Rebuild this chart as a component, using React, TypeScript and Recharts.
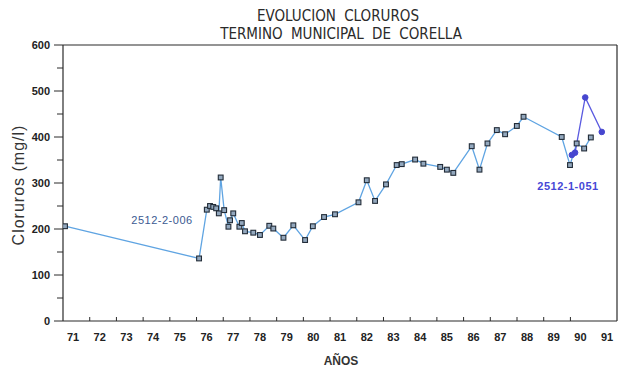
import { LineChart, Line, XAxis, YAxis, ReferenceLine } from 'recharts';

// Pozo 2512-2-006 (serie larga, 1970-1990)
const yearsPozo2006 = [
  70.7, 75.72, 76.01, 76.13, 76.25, 76.36, 76.46, 76.53, 76.66, 76.82, 76.88,
  77.0, 77.23, 77.32, 77.44, 77.75, 78.0, 78.35, 78.5, 78.88, 79.25, 79.69,
  79.98, 80.4, 80.81, 81.69, 82.0, 82.31, 82.72, 83.12, 83.31, 83.81, 84.12,
  84.75, 85.0, 85.24, 85.93, 86.22, 86.52, 86.87, 87.18, 87.62, 87.87, 89.3,
  89.61, 89.86, 90.14, 90.39,
];
const clorurosPozo2006 = [
  206, 136, 242, 250, 248, 245, 234, 312, 241, 205, 219,
  234, 205, 213, 195, 192, 187, 207, 201, 181, 208, 176,
  206, 226, 232, 258, 306, 261, 297, 339, 341, 351, 342,
  335, 329, 322, 380, 329, 386, 415, 406, 424, 444, 400,
  339, 386, 375, 399,
];

// Pozo 2512-1-051
const yearsPozo1051 = [89.68, 89.8, 90.18, 90.8];
const clorurosPozo1051 = [361, 366, 486, 411];

const yearTicks = [
  71, 72, 73, 74, 75, 76, 77, 78, 79, 80, 81, 82, 83, 84, 85, 86, 87, 88, 89, 90, 91,
];
const clorurosTicks = [0, 50, 100, 150, 200, 250, 300, 350, 400, 450, 500, 550, 600];

const X_MIN = 70.625;
const X_MAX = 91.37;

const serie2006 = yearsPozo2006.map((year, i) => ({ year, cl: clorurosPozo2006[i] }));
const serie1051 = yearsPozo1051.map((year, i) => ({ year, cl: clorurosPozo1051[i] }));

const AXIS = '#2b2b2b';
const tickFont = '"Liberation Sans", Arial, sans-serif';

const SquareDot = (props: any) => {
  const { cx, cy } = props;
  if (cx == null || cy == null) return null;
  return (
    <rect
      x={cx - 2.4}
      y={cy - 2.4}
      width={4.8}
      height={4.8}
      fill="#93a8be"
      stroke="#222c38"
      strokeWidth={1.1}
    />
  );
};

const YearTick = (props: any) => {
  const { x, y, payload } = props;
  return (
    <g>
      {payload.value !== 71 && payload.value !== 91 && (
        <line x1={x - 10} y1={y} x2={x - 10} y2={y - 4} stroke={AXIS} strokeWidth={1} />
      )}
      <text
        x={x}
        y={y + 20}
        textAnchor="middle"
        fontFamily={tickFont}
        fontWeight="bold"
        fontSize={11}
        fill="#222"
      >
        {payload.value}
      </text>
    </g>
  );
};

const ClTick = (props: any) => {
  const { x, y, payload } = props;
  const major = payload.value % 100 === 0;
  return (
    <g>
      <line x1={x - (major ? 9 : 6)} y1={y} x2={x} y2={y} stroke={AXIS} strokeWidth={1} />
      {major && (
        <text
          x={x - 13}
          y={y + 4}
          textAnchor="end"
          fontFamily={tickFont}
          fontWeight="bold"
          fontSize={11}
          fill="#222"
        >
          {payload.value}
        </text>
      )}
    </g>
  );
};

export default function App() {
  return (
    <div style={{ position: 'absolute', left: 0, top: 0, width: 624, height: 371, background: '#fff' }}>
      <LineChart
        width={624}
        height={371}
        margin={{ top: 45, right: 7, bottom: 0, left: 0 }}
      >
        <XAxis
          type="number"
          dataKey="year"
          domain={[X_MIN, X_MAX]}
          ticks={yearTicks}
          tick={YearTick}
          tickSize={0}
          tickMargin={0}
          height={50}
          axisLine={{ stroke: AXIS, strokeWidth: 1.2 }}
          allowDataOverflow
        />
        <YAxis
          type="number"
          dataKey="cl"
          domain={[0, 600]}
          ticks={clorurosTicks}
          tick={ClTick}
          tickSize={0}
          tickMargin={0}
          width={63}
          axisLine={{ stroke: AXIS, strokeWidth: 1.2 }}
          interval={0}
        />
        <ReferenceLine y={600} stroke={AXIS} strokeWidth={1.2} />
        <ReferenceLine x={X_MAX} stroke={AXIS} strokeWidth={1.2} />
        <Line
          data={serie2006}
          dataKey="cl"
          type="linear"
          stroke="#5fa4e2"
          strokeWidth={1.3}
          dot={<SquareDot />}
          activeDot={false}
          isAnimationActive={false}
        />
        <Line
          data={serie1051}
          dataKey="cl"
          type="linear"
          stroke="#5a5ae0"
          strokeWidth={1.3}
          dot={{ r: 2.8, fill: '#4646cf', stroke: '#4646cf', strokeWidth: 1 }}
          activeDot={false}
          isAnimationActive={false}
        />
      </LineChart>

      <svg
        width={624}
        height={371}
        style={{ position: 'absolute', left: 0, top: 0, pointerEvents: 'none' }}
      >
        <g fontFamily='"Liberation Sans Narrow", "DejaVu Sans Condensed", Arial, sans-serif' fill="#2a2a2a" fontSize={15}>
          <text x={338} y={21} textAnchor="middle" wordSpacing={4}>
            EVOLUCION CLORUROS
          </text>
          <text x={341} y={39} textAnchor="middle" wordSpacing={4}>
            TERMINO MUNICIPAL DE CORELLA
          </text>
        </g>
        <text
          x={0}
          y={0}
          transform="translate(24,185) rotate(-90)"
          textAnchor="middle"
          fontFamily={tickFont}
          fontSize={16}
          fill="#333"
          letterSpacing={1}
        >
          Cloruros (mg/l)
        </text>
        <text
          x={341}
          y={365}
          textAnchor="middle"
          fontFamily={tickFont}
          fontWeight="bold"
          fontSize={12}
          fill="#333"
        >
          AÑOS
        </text>
        <text
          x={162}
          y={224}
          textAnchor="middle"
          fontFamily={tickFont}
          fontSize={11}
          fill="#3b5a92"
          letterSpacing={0.5}
        >
          2512-2-006
        </text>
        <text
          x={568}
          y={190}
          textAnchor="middle"
          fontFamily={tickFont}
          fontWeight="bold"
          fontSize={11}
          fill="#4747d6"
          letterSpacing={0.5}
        >
          2512-1-051
        </text>
      </svg>
    </div>
  );
}
